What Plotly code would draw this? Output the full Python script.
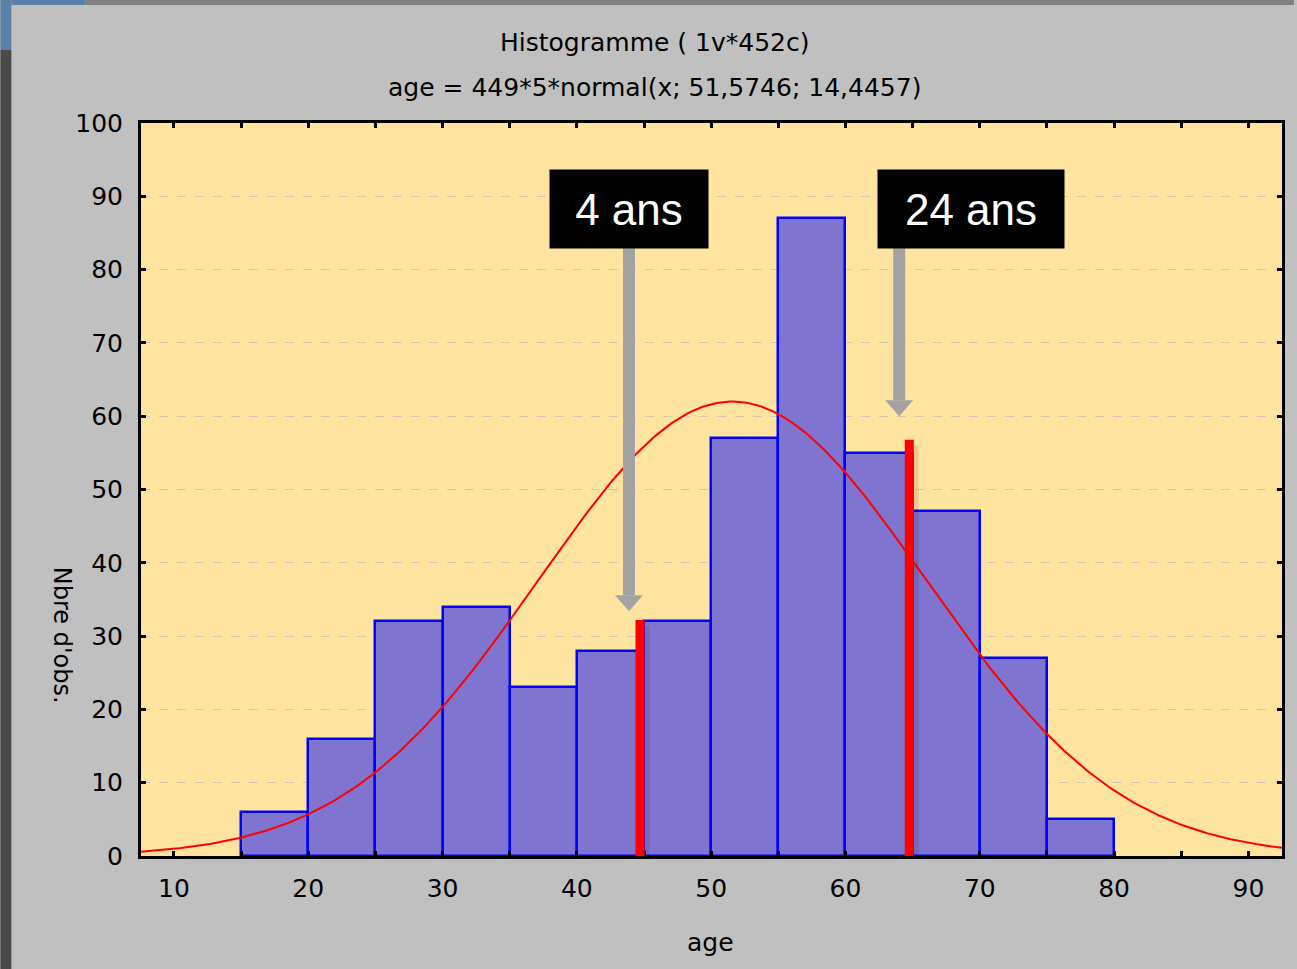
import numpy as np
import plotly.graph_objects as go

# ---- data ----
bin_left = [15, 20, 25, 30, 35, 40, 45, 50, 55, 60, 65, 70, 75]
counts = [6, 16, 32, 34, 23, 28, 32, 57, 87, 55, 47, 27, 5]
bin_width = 5
n_obs = 449
mu = 51.5746
sigma = 14.4457
x_ticks = [10, 20, 30, 40, 50, 60, 70, 80, 90]
y_ticks = [0, 10, 20, 30, 40, 50, 60, 70, 80, 90, 100]
title_text = "Histogramme ( 1v*452c)"
subtitle_text = "age = 449*5*normal(x; 51,5746; 14,4457)"
x_title = "age"
y_title = "Nbre d'obs."
# red marker lines (age, height)
marker_x = [44.7, 64.75]
marker_top = [32.2, 56.8]
# labelled arrows
label_text = ["4 ans", "24 ans"]
label_x = [43.88, 69.36]
label_y = 88.3
label_w = [158, 186]
arrow_x = [43.88, 64.0]
arrow_tip = [33.4, 60.0]
arrow_top = 82.9

# ---- geometry ----
W, H = 1297, 969
L, R, T, B = 141, 1285, 123, 856
xr = [7.55, 92.5]
yr = [0, 100]
FONT = "DejaVu Sans, Verdana, sans-serif"
BOXFONT = "Liberation Sans, Arial, sans-serif"

def px(xp):
    return (xp - L) / (R - L)

def py(yp):
    return (B - yp) / (B - T)

bar_x = [b + bin_width / 2 for b in bin_left]
xc = np.linspace(xr[0], xr[1], 400)
yc = n_obs * bin_width * np.exp(-0.5 * ((xc - mu) / sigma) ** 2) / (sigma * np.sqrt(2 * np.pi))

fig = go.Figure()
fig.add_trace(go.Bar(x=bar_x, y=counts, width=bin_width,
                     marker=dict(color="#7f74cf", line=dict(color="#0000ff", width=2.5)),
                     hoverinfo="x+y", showlegend=False))
fig.add_trace(go.Scatter(x=xc, y=yc, mode="lines",
                         line=dict(color="#ff0000", width=2), showlegend=False))

shapes = []
# decorations around the window
shapes.append(dict(type="rect", xref="paper", yref="paper", x0=px(0), x1=px(11), y0=py(969), y1=py(50),
                   fillcolor="#4a4a4a", line=dict(width=0), layer="below"))
shapes.append(dict(type="rect", xref="paper", yref="paper", x0=px(0), x1=px(11), y0=py(50), y1=py(0),
                   fillcolor="#5a80aa", line=dict(width=0), layer="below"))
shapes.append(dict(type="rect", xref="paper", yref="paper", x0=px(11), x1=px(85), y0=py(5), y1=py(0),
                   fillcolor="#5a80aa", line=dict(width=0), layer="below"))
shapes.append(dict(type="rect", xref="paper", yref="paper", x0=px(85), x1=px(1297), y0=py(5), y1=py(0),
                   fillcolor="#808080", line=dict(width=0), layer="below"))

# red marker lines with soft shadow
for mx, mt in zip(marker_x, marker_top):
    shapes.append(dict(type="line", xref="x", yref="y", x0=mx + 0.25, x1=mx + 0.25, y0=-0.8, y1=mt - 0.8,
                       line=dict(color="rgba(0,0,0,0.10)", width=12), layer="above"))
    shapes.append(dict(type="line", xref="x", yref="y", x0=mx, x1=mx, y0=0, y1=mt,
                       line=dict(color="#ff0000", width=9), layer="above"))

# gray arrows
hw = 14 / ((R - L) / (xr[1] - xr[0]))
hh = 16 / ((B - T) / (yr[1] - yr[0]))
for ax_, tip in zip(arrow_x, arrow_tip):
    shapes.append(dict(type="line", xref="x", yref="y", x0=ax_, x1=ax_, y0=arrow_top, y1=tip + hh,
                       line=dict(color="#a3a3a3", width=12), layer="above"))
    shapes.append(dict(type="path", xref="x", yref="y",
                       path=f"M {ax_ - hw} {tip + hh} L {ax_ + hw} {tip + hh} L {ax_} {tip} Z",
                       fillcolor="#a3a3a3", line=dict(width=0), layer="above"))

annotations = [
    dict(text=title_text, xref="paper", yref="paper", x=px(656), y=py(43), showarrow=False,
         font=dict(family=FONT, size=25, color="#000000"), xanchor="center", yanchor="middle"),
    dict(text=subtitle_text, xref="paper", yref="paper", x=px(656), y=py(87), showarrow=False,
         font=dict(family=FONT, size=25, color="#000000"), xanchor="center", yanchor="middle"),
    dict(text=x_title, xref="paper", yref="paper", x=px(712), y=py(942), showarrow=False,
         font=dict(family=FONT, size=25, color="#000000"), xanchor="center", yanchor="middle"),
    dict(text=y_title, xref="paper", yref="paper", x=px(62), y=py(635), showarrow=False, textangle=90,
         font=dict(family=FONT, size=24, color="#000000"), xanchor="center", yanchor="middle"),
]
for t, lx, lw in zip(label_text, label_x, label_w):
    annotations.append(dict(text=t, xref="x", yref="y", x=lx, y=label_y, showarrow=False,
                            bgcolor="#000000", width=lw, height=78, borderpad=0,
                            font=dict(family=BOXFONT, size=44, color="#ffffff"),
                            xanchor="center", yanchor="middle"))

x_tickvals = list(range(10, 95, 5))
x_ticktext = [str(v) if v in x_ticks else "" for v in x_tickvals]

fig.update_layout(
    width=W, height=H,
    margin=dict(l=L, r=W - R, t=T, b=H - B, pad=0),
    paper_bgcolor="#c0c0c0", plot_bgcolor="#ffe4a0",
    font=dict(family=FONT, size=24, color="#000000"),
    bargap=0, showlegend=False,
    shapes=shapes, annotations=annotations,
    xaxis=dict(range=xr, tickvals=x_tickvals, ticktext=x_ticktext, ticks="inside", ticklen=5, tickwidth=2.5,
               tickcolor="#000000", showline=True, linecolor="#000000", linewidth=3, mirror="ticks",
               showgrid=False, zeroline=False, tickfont=dict(family=FONT, size=25), ticklabelstandoff=8),
    yaxis=dict(range=yr, tickvals=y_ticks, ticks="inside", ticklen=5, tickwidth=2.5, tickcolor="#000000",
               showline=True, linecolor="#000000", linewidth=3, mirror="ticks",
               showgrid=True, gridcolor="#cfc8b8", griddash="dash", gridwidth=1, zeroline=False,
               tickfont=dict(family=FONT, size=25), ticklabelstandoff=10),
)

fig.write_html("out.html", config={"displayModeBar": False},
               post_script="document.body.style.margin='0';document.body.style.overflow='hidden';")
